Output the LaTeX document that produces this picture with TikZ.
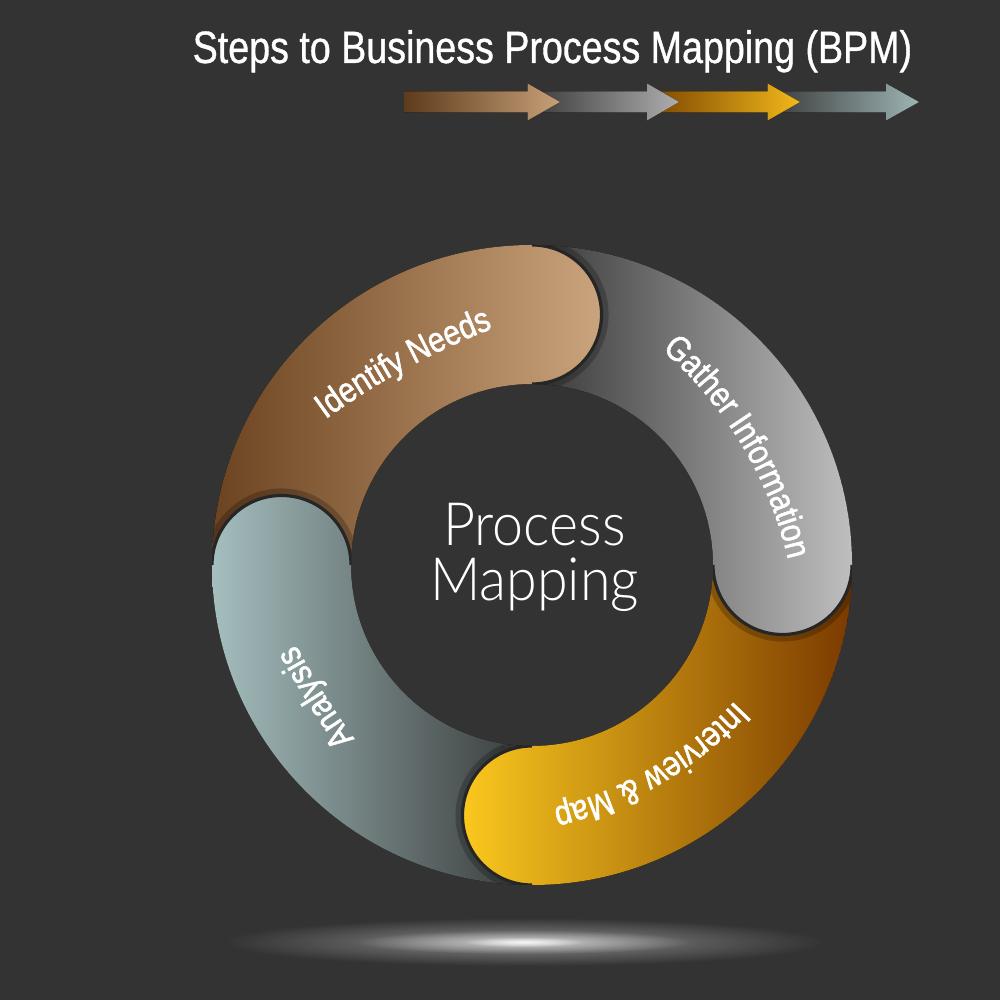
\documentclass[tikz,border=0pt]{standalone}
\usepackage{fontspec}
\usetikzlibrary{calc, decorations.text, fadings}

\setmainfont{Liberation Sans}
\newfontfamily\titlefont{Liberation Sans}[FakeStretch=0.83, FakeBold=0.8]
\newfontfamily\labelfont{Liberation Sans}[FakeStretch=0.85, FakeBold=1.4]
\newfontfamily\thinfont{Lato Light}[FakeStretch=0.93]

\definecolor{bgdark}{HTML}{333333}
\definecolor{capedge}{HTML}{262626}
\definecolor{idnL}{HTML}{6B4320}
\definecolor{idnR}{HTML}{CAA47C}
\definecolor{gatL}{HTML}{383838}
\definecolor{gatR}{HTML}{BFBFBF}
\definecolor{intL}{HTML}{FAC81E}
\definecolor{intR}{HTML}{7A3A00}
\definecolor{anaL}{HTML}{A5BEBE}
\definecolor{anaR}{HTML}{373939}
\definecolor{arrA1}{HTML}{5E3B1B}
\definecolor{arrA2}{HTML}{C6A078}
\definecolor{arrB1}{HTML}{383838}
\definecolor{arrB2}{HTML}{AEAEAE}
\definecolor{arrC1}{HTML}{7A4400}
\definecolor{arrC2}{HTML}{F2B81B}
\definecolor{arrD1}{HTML}{383838}
\definecolor{arrD2}{HTML}{9DB4B4}

\tikzfading[name=glowfade, inner color=transparent!0, outer color=transparent!100]

\begin{document}
\begin{tikzpicture}[
    ringpart/.style={insert path={($(ring)+(#1:3.2)$) arc[start angle=#1, end angle=#1-90, radius=3.2]
        arc[start angle=#1-90, end angle=#1-270, radius=0.695]
        arc[start angle=#1-90, end angle=#1, radius=1.81] -- cycle}},
    ringcap/.style={insert path={($(ring)+(#1-90:3.2)$) arc[start angle=#1-90, end angle=#1-270, radius=0.695]}},
    capshadow/.style={draw=black, line width=4pt, opacity=0.22},
    capline/.style={draw=capedge, line width=0.9pt},
    steplabel/.style={decorate, decoration={text along path, text color=white, text align=center}},
    glow/.style={fill=white, path fading=glowfade}
]

\useasboundingbox (0,0) rectangle (10,10);
\fill[bgdark] (0,0) rectangle (10,10);
\coordinate (ring) at (5.32,4.35);
\coordinate (floor) at (5.24,0.58);

% title and step arrows
\node[anchor=base west, inner sep=0, text=white, font=\titlefont\fontsize{12.9}{15}\selectfont] (title) at (1.92,9.37) {Steps to Business Process Mapping (BPM)};

\foreach \xs/\xb/\xt/\lc/\rc in {7.675/8.86/9.19/arrD1/arrD2, 6.47/7.675/8.00/arrC1/arrC2, 5.275/6.47/6.79/arrB1/arrB2, 4.04/5.275/5.60/arrA1/arrA2} {
    \fill[left color=\lc, right color=\rc] (\xs,8.875) -- (\xb,8.875) -- (\xb,8.795) -- (\xt,8.98) -- (\xb,9.165) -- (\xb,9.085) -- (\xs,9.085) -- cycle;
}

% glow under the ring
\fill[glow, opacity=0.45] (floor) ellipse [x radius=3.0, y radius=0.24];
\fill[glow, opacity=0.6] (floor) ellipse [x radius=1.7, y radius=0.12];
\fill[glow, opacity=0.8] (floor) ellipse [x radius=0.6, y radius=0.05];

% ring parts
\begin{scope}[even odd rule]
    \clip (ring) circle (3.2) (ring) circle (1.81);
    \foreach \a/\lc/\rc in {-90/anaL/anaR, 0/intL/intR, 90/gatL/gatR, 180/idnL/idnR} {
        \path[capshadow, ringcap=\a];
        \fill[left color=\lc, right color=\rc, ringpart=\a];
        \path[capline, ringcap=\a];
    }
    % analysis end lies over identify needs
    \clip (0,4.35) rectangle (5.32,10);
    \path[capshadow, ringcap=-90];
    \fill[left color=anaL, right color=anaR, ringpart=-90];
    \path[capline, ringcap=-90];
\end{scope}

% step labels
\coordinate (needsC) at (7.56,-0.126);
\coordinate (gatherC) at (4.022,3.511);
\coordinate (interC) at (4.636,5.519);
\coordinate (analysisC) at (9.925,7.253);

\path[steplabel, decoration={text={|\labelfont\fontsize{10}{12}\selectfont|Identify Needs}}]
    ([shift={(133:7.33)}]needsC) arc[start angle=133, end angle=104, radius=7.33];
\path[steplabel, decoration={text={|\labelfont\fontsize{10}{12}\selectfont|Gather Information}}]
    ([shift={(56:3.96)}]gatherC) arc[start angle=56, end angle=6, radius=3.96];
\path[steplabel, decoration={text={|\labelfont\fontsize{10}{12}\selectfont|Interview {\&} Map}}]
    ([shift={(-37:3.708)}]interC) arc[start angle=-37, end angle=-82, radius=3.708];
\path[steplabel, decoration={text={|\labelfont\fontsize{10}{12}\selectfont|Analysis}}]
    ([shift={(220:7.89)}]analysisC) arc[start angle=220, end angle=204, radius=7.89];

% center text
\node[inner sep=0, text=white, align=center, font=\thinfont\fontsize{17}{15.6}\selectfont] (core) at (5.345,4.43) {Process\\Mapping};

\end{tikzpicture}
\end{document}
